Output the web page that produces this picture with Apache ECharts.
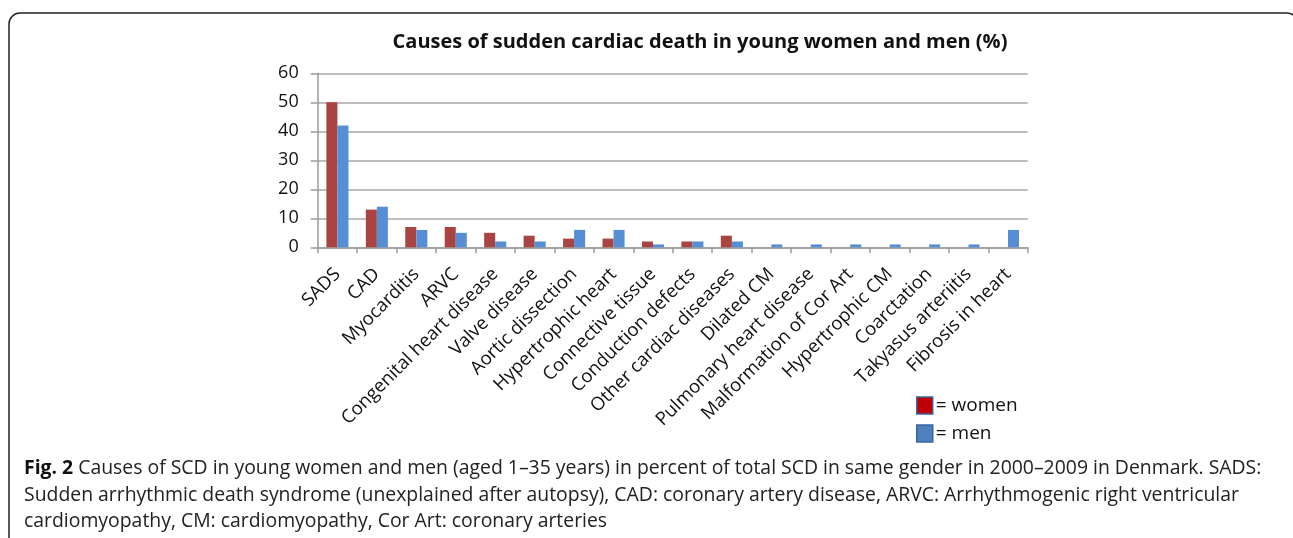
<!DOCTYPE html>
<html><head><meta charset="utf-8">
<script src="https://cdn.jsdelivr.net/npm/echarts@6/dist/echarts.min.js"></script>
<style>html,body{margin:0;padding:0;background:#fff}#c{width:1293px;height:538px}</style>
</head><body><div id="c"></div>
<script>
const categories = ['SADS','CAD','Myocarditis','ARVC','Congenital heart disease','Valve disease','Aortic dissection','Hypertrophic heart','Connective tissue','Conduction defects','Other cardiac diseases','Dilated CM','Pulmonary heart disease','Malformation of Cor Art','Hypertrophic CM','Coarctation','Takyasus arteriitis','Fibrosis in heart'];
const women = [50,13,7,7,5,4,3,3,2,2,4,0,0,0,0,0,0,0];
const men = [42,14,6,5,2,2,6,6,1,2,2,1,1,1,1,1,1,6];
const yTicks = [0,10,20,30,40,50,60];
const titleText = 'Causes of sudden cardiac death in young women and men (%)';
const captionLines = [
  ['Fig. 2', ' Causes of SCD in young women and men (aged 1\u201335 years) in percent of total SCD in same gender in 2000\u20132009 in Denmark. SADS:'],
  ['', 'Sudden arrhythmic death syndrome (unexplained after autopsy), CAD: coronary artery disease, ARVC: Arrhythmogenic right ventricular'],
  ['', 'cardiomyopathy, CM: cardiomyopathy, Cor Art: coronary arteries']
];

const chart = echarts.init(document.getElementById('c'), null, {renderer:'canvas'});
const capFont = '"Open Sans", sans-serif';
const graphics = [
  {type:'rect', shape:{x:9, y:13, width:1289, height:600, r:11}, style:{fill:'none', stroke:'#222', lineWidth:1.5}, z:0}
];
captionLines.forEach((l,i)=>{
  graphics.push({type:'text', left:24, top:459+i*26.5, style:{
    text: (l[0] ? '{b|'+l[0]+'}' : '') + '{n|'+l[1]+'}',
    rich:{b:{fontFamily:capFont, fontWeight:'bold', fontSize:19.4, fill:'#111'}, n:{fontFamily:capFont, fontSize:19.4, fill:'#222'}}
  }});
});
chart.setOption({
  animation:false,
  title:{text:titleText, left:695, textAlign:'center', top:27, textStyle:{fontFamily:'"Open Sans", sans-serif', fontWeight:'bold', fontSize:20, color:'#111'}},
  grid:{left:317.7, right:265.3, top:73.3, bottom:290.7},
  legend:{orient:'vertical', left:916, top:396, padding:0, itemWidth:16, itemHeight:17, itemGap:9, icon:'rect',
    textStyle:{fontFamily:'"Open Sans", sans-serif', fontSize:19, color:'#111', padding:[0,0,0,-2]},
    formatter: n => '= ' + n,
    data:[{name:'women', itemStyle:{color:'#C00000', borderColor:'#3D64A0', borderWidth:1.5}},
          {name:'men', itemStyle:{color:'#4F81BD', borderColor:'#3D64A0', borderWidth:1.5}}]},
  xAxis:{type:'category', data:categories,
    axisLine:{lineStyle:{color:'#9a9a9a', width:1.5}},
    axisTick:{show:true, length:6, lineStyle:{color:'#9a9a9a', width:1.5}},
    axisLabel:{rotate:45, interval:0, margin:24, fontFamily:'"Open Sans", sans-serif', fontSize:18.5, color:'#111'}},
  yAxis:{type:'value', min:0, max:60, interval:10,
    axisLine:{show:true, lineStyle:{color:'#9a9a9a', width:1.5}},
    axisTick:{show:true, length:7, lineStyle:{color:'#9a9a9a', width:1.5}},
    splitLine:{lineStyle:{color:'#a8a8a8', width:1.5}},
    axisLabel:{fontFamily:'"Open Sans", sans-serif', fontSize:18, color:'#111', margin:19,
      formatter: v => yTicks.includes(v) ? String(v) : ''}},
  series:[
    {name:'women', type:'bar', data:women, barGap:'0%', barCategoryGap:'44%', itemStyle:{color:'#A94442'}},
    {name:'men', type:'bar', data:men, itemStyle:{color:'#558ED5'}}
  ],
  graphic:graphics
});
</script></body></html>
